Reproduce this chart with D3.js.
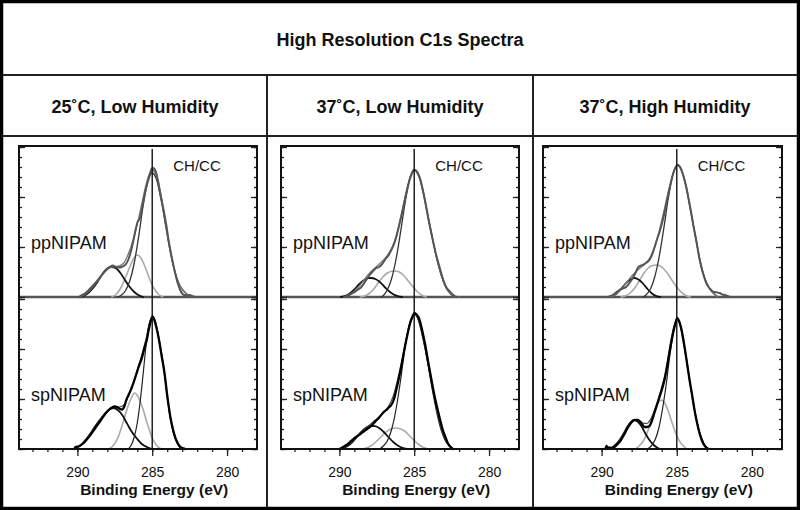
<!DOCTYPE html>
<html><head><meta charset="utf-8">
<script src="https://cdn.jsdelivr.net/npm/d3@7"></script>
<style>html,body{margin:0;padding:0;background:#fff;} svg{display:block;font-family:"Liberation Sans",Arial,sans-serif;}</style>
</head><body><svg id="c" width="800" height="510"></svg>
<script>
// ---------------- DATA ----------------
const chartTitle = "High Resolution C1s Spectra";
const conditions = ["25˚C, Low Humidity", "37˚C, Low Humidity", "37˚C, High Humidity"];
const samples = ["ppNIPAM", "spNIPAM"];
const peakLabel = "CH/CC";
const peakPosition = 285;
const xTickValues = [290, 285, 280];
const xTitle = "Binding Energy (eV)";

// [binding energy (eV), intensity (a.u.)]
// 25˚C low humidity, ppNIPAM
const pp25_exp = [[289.8,0.1],[289.45,0.4],[289.13,0.87],[288.8,1.4],[288.47,2.0],[288.2,2.5],[288.0,2.8],[287.8,3.05],[287.62,3.15],[287.45,3.0],[287.25,2.95],[287.05,3.0],[286.9,3.1],[286.75,3.3],[286.58,3.8],[286.4,4.7],[286.25,5.7],[286.1,6.8],[285.98,7.5],[285.88,7.7],[285.8,8.0],[285.65,9.1],[285.47,10.5],[285.3,11.5],[285.18,12.1],[285.05,12.8],[284.96,12.9],[284.85,12.8],[284.73,12.4],[284.6,11.5],[284.47,10.4],[284.35,9.5],[284.24,8.7],[284.05,7.1],[283.91,5.7],[283.7,4.0],[283.47,2.4],[283.3,1.4],[283.13,0.7],[282.87,0.2],[282.6,0.15],[282.47,0.2],[282.35,0.1],[282.1,0]];
const pp25_fit = [[289.8,0],[289.4,0.35],[289.0,0.95],[288.6,1.7],[288.2,2.5],[287.8,2.95],[287.5,3.05],[287.2,3.1],[286.9,3.4],[286.6,4.3],[286.3,5.6],[286.0,7.3],[285.7,9.3],[285.4,11.3],[285.2,12.3],[285.0,12.7],[284.8,12.4],[284.6,11.5],[284.4,10.1],[284.1,7.3],[283.8,4.7],[283.5,2.6],[283.2,1.3],[282.9,0.6],[282.6,0.2],[282.3,0]];
const pp25_chcc = [[287.3,0],[287.1,0.15],[286.8,0.6],[286.5,1.6],[286.2,3.4],[285.9,6.1],[285.6,9.2],[285.3,11.6],[285.0,12.4],[284.7,11.7],[284.4,9.7],[284.1,7.1],[283.8,4.6],[283.5,2.6],[283.2,1.3],[282.9,0.6],[282.6,0.2],[282.3,0]];
const pp25_cn = [[287.7,0],[287.4,0.3],[287.1,0.9],[286.8,1.9],[286.5,3.0],[286.25,3.85],[286.0,4.2],[285.75,3.9],[285.5,3.1],[285.2,1.9],[284.9,0.9],[284.6,0.3],[284.3,0]];
const pp25_co = [[289.8,0],[289.5,0.18],[289.2,0.5],[288.9,1.0],[288.6,1.65],[288.3,2.35],[288.0,2.85],[287.7,3.0],[287.4,2.85],[287.1,2.35],[286.8,1.65],[286.5,1.0],[286.2,0.5],[285.9,0.18],[285.6,0]];

// 25˚C low humidity, spNIPAM
const sp25_exp = [[290.2,0],[290.13,0.2],[289.95,0.25],[289.58,0.6],[289.35,1.0],[289.13,1.4],[288.8,2.1],[288.47,2.8],[288.2,3.4],[287.91,3.9],[287.7,4.15],[287.47,4.25],[287.3,4.15],[287.15,4.0],[287.02,3.95],[286.85,4.3],[286.73,4.9],[286.55,5.5],[286.35,6.2],[286.1,7.3],[285.91,8.2],[285.69,9.1],[285.5,10.2],[285.36,10.9],[285.25,11.8],[285.13,12.6],[284.98,13.25],[284.88,13.0],[284.8,12.6],[284.65,11.7],[284.51,10.6],[284.37,9.3],[284.24,8.2],[284.12,6.9],[284.02,5.6],[283.9,4.3],[283.8,3.3],[283.65,2.2],[283.47,1.2],[283.3,0.6],[283.13,0.2],[282.8,0]];
const sp25_fit = [[290.2,0],[289.8,0.35],[289.4,0.95],[289.0,1.75],[288.6,2.65],[288.2,3.5],[287.8,4.05],[287.5,4.2],[287.2,4.2],[286.9,4.4],[286.6,5.3],[286.3,6.5],[286.0,7.9],[285.7,9.4],[285.4,11.1],[285.2,12.5],[285.0,13.2],[284.8,12.8],[284.6,11.3],[284.4,9.6],[284.2,7.7],[284.0,5.4],[283.8,3.3],[283.6,1.8],[283.4,0.8],[283.1,0.2],[282.8,0]];
const sp25_chcc = [[286.6,0],[286.4,0.4],[286.2,1.2],[286.0,2.6],[285.8,4.8],[285.6,7.6],[285.4,10.5],[285.2,12.5],[285.0,13.2],[284.8,12.8],[284.6,11.4],[284.4,9.8],[284.2,7.8],[284.0,5.3],[283.8,3.1],[283.6,1.7],[283.4,0.8],[283.1,0.1],[282.9,0]];
const sp25_cn = [[287.9,0],[287.6,0.35],[287.3,1.1],[287.0,2.4],[286.7,3.9],[286.4,5.1],[286.18,5.6],[285.9,5.1],[285.6,3.9],[285.3,2.4],[285.0,1.1],[284.7,0.35],[284.4,0]];
const sp25_co = [[290.2,0],[289.8,0.35],[289.4,1.0],[289.1,1.6],[288.8,2.3],[288.5,2.9],[288.1,3.6],[287.8,4.0],[287.58,4.1],[287.3,3.9],[287.0,3.4],[286.7,2.6],[286.4,1.8],[286.0,1.0],[285.7,0.5],[285.35,0.2],[285.0,0]];

// 37˚C low humidity, ppNIPAM
const pp37_exp = [[289.65,0],[289.35,0.2],[289.09,0.4],[288.8,0.7],[288.53,1.0],[288.25,1.6],[287.98,2.2],[287.75,2.6],[287.53,2.9],[287.35,3.0],[287.2,3.2],[287.05,3.5],[286.87,3.9],[286.7,4.2],[286.53,4.7],[286.35,5.3],[286.2,6.0],[286.05,6.9],[285.87,8.0],[285.7,9.2],[285.53,10.4],[285.4,11.2],[285.27,11.9],[285.13,12.4],[285.03,12.7],[284.9,12.65],[284.76,12.4],[284.6,11.8],[284.47,11.0],[284.33,10.0],[284.2,9.0],[284.0,7.4],[283.76,5.7],[283.55,4.3],[283.31,3.0],[283.1,1.9],[282.87,1.0],[282.65,0.6],[282.47,0.3],[282.3,0.1],[282.09,0]];
const pp37_fit = [[289.7,0],[289.3,0.25],[288.9,0.75],[288.5,1.4],[288.1,2.2],[287.7,2.8],[287.3,3.35],[286.9,3.95],[286.5,4.9],[286.2,6.1],[285.9,8.0],[285.6,10.0],[285.3,11.9],[285.0,12.75],[284.7,12.2],[284.4,10.6],[284.1,8.3],[283.8,6.0],[283.5,3.9],[283.2,2.2],[282.9,1.0],[282.6,0.35],[282.3,0.05],[282.0,0]];
const pp37_chcc = [[287.2,0],[287.0,0.25],[286.8,0.7],[286.5,1.9],[286.2,3.9],[285.9,6.6],[285.6,9.5],[285.3,11.8],[285.0,12.7],[284.7,12.1],[284.4,10.5],[284.1,8.2],[283.8,6.0],[283.5,3.9],[283.2,2.2],[282.9,1.0],[282.6,0.35],[282.3,0.05],[282.1,0]];
const pp37_cn = [[288.6,0],[288.3,0.1],[288.0,0.35],[287.7,0.8],[287.4,1.4],[287.1,2.0],[286.8,2.4],[286.5,2.58],[286.3,2.6],[286.0,2.5],[285.7,2.15],[285.4,1.6],[285.1,1.05],[284.8,0.55],[284.5,0.2],[284.2,0]];
const pp37_co = [[289.9,0],[289.6,0.12],[289.3,0.35],[289.0,0.75],[288.7,1.25],[288.4,1.65],[288.1,1.88],[287.87,1.9],[287.6,1.8],[287.3,1.5],[287.0,1.05],[286.7,0.6],[286.4,0.28],[286.1,0.08],[285.8,0]];

// 37˚C low humidity, spNIPAM
const sp37_exp = [[289.98,0],[289.75,0.2],[289.53,0.4],[289.25,0.75],[288.98,1.1],[288.7,1.4],[288.43,1.7],[288.15,2.0],[287.87,2.3],[287.6,2.75],[287.31,3.2],[287.1,3.6],[286.87,3.9],[286.7,4.15],[286.53,4.4],[286.35,5.0],[286.2,5.9],[286.05,6.9],[285.87,8.2],[285.7,9.6],[285.53,10.9],[285.4,11.8],[285.27,12.6],[285.12,13.2],[284.98,13.6],[284.85,13.45],[284.69,13.1],[284.55,12.4],[284.43,11.6],[284.25,10.3],[284.09,8.9],[283.92,7.5],[283.76,6.2],[283.6,5.0],[283.43,3.9],[283.25,2.8],[283.09,1.9],[282.92,1.2],[282.76,0.6],[282.6,0.25],[282.42,0]];
const sp37_fit = [[290.0,0],[289.7,0.15],[289.4,0.45],[289.1,0.85],[288.8,1.3],[288.5,1.75],[288.2,2.15],[287.9,2.5],[287.6,2.9],[287.3,3.25],[287.0,3.7],[286.7,4.3],[286.4,5.3],[286.1,7.0],[285.8,9.0],[285.5,11.2],[285.25,12.8],[285.0,13.5],[284.75,13.0],[284.5,11.6],[284.25,9.9],[284.0,7.9],[283.75,5.9],[283.5,3.9],[283.25,2.3],[283.0,1.1],[282.75,0.45],[282.5,0.1],[282.3,0]];
const sp37_chcc = [[287.3,0],[287.1,0.25],[286.8,0.8],[286.5,2.0],[286.2,4.1],[285.9,7.0],[285.6,10.3],[285.3,12.6],[285.0,13.5],[284.7,12.8],[284.4,11.0],[284.1,8.6],[283.8,6.0],[283.5,3.7],[283.2,1.9],[282.9,0.8],[282.6,0.25],[282.4,0]];
const sp37_cn = [[288.5,0],[288.2,0.1],[287.9,0.3],[287.6,0.65],[287.3,1.1],[287.0,1.55],[286.7,1.9],[286.4,2.07],[286.2,2.1],[285.9,2.0],[285.6,1.75],[285.3,1.3],[285.0,0.85],[284.7,0.45],[284.4,0.18],[284.1,0]];
const sp37_co = [[290.0,0],[289.7,0.12],[289.4,0.35],[289.1,0.75],[288.8,1.25],[288.5,1.75],[288.2,2.15],[287.9,2.3],[287.6,2.28],[287.3,2.05],[287.0,1.65],[286.7,1.15],[286.4,0.7],[286.1,0.35],[285.8,0.12],[285.5,0]];

// 37˚C high humidity, ppNIPAM
const pp37h_exp = [[289.6,0],[289.27,0.2],[289.05,0.45],[288.82,0.7],[288.6,0.85],[288.37,1.0],[288.15,1.4],[287.93,1.9],[287.75,2.4],[287.6,2.9],[287.45,3.1],[287.27,3.2],[287.05,3.4],[286.82,3.7],[286.6,4.4],[286.45,5.1],[286.37,5.5],[286.15,6.5],[285.93,7.7],[285.75,8.9],[285.6,10.0],[285.43,11.2],[285.27,12.2],[285.1,12.9],[284.93,13.2],[284.78,13.0],[284.64,12.5],[284.5,11.8],[284.37,11.0],[284.2,9.7],[284.04,8.4],[283.88,7.0],[283.71,5.7],[283.55,4.3],[283.37,3.0],[283.2,2.1],[283.04,1.4],[282.88,1.0],[282.71,0.7],[282.6,0.55],[282.49,0.5],[282.3,0.45],[282.15,0.4],[281.95,0.25],[281.71,0.15],[281.49,0]];
const pp37h_fit = [[289.5,0],[289.2,0.12],[288.9,0.45],[288.6,0.95],[288.3,1.5],[288.0,2.1],[287.7,2.55],[287.4,2.95],[287.1,3.35],[286.8,3.9],[286.5,4.9],[286.2,6.4],[285.9,8.3],[285.6,10.3],[285.3,12.0],[285.1,12.9],[284.95,13.2],[284.8,13.0],[284.6,12.3],[284.35,10.9],[284.05,8.5],[283.75,6.0],[283.45,3.6],[283.15,1.9],[282.85,0.9],[282.55,0.35],[282.25,0]];
const pp37h_chcc = [[287.25,0],[287.05,0.2],[286.75,0.8],[286.45,2.1],[286.15,4.2],[285.85,7.0],[285.55,10.0],[285.25,12.3],[284.95,13.2],[284.65,12.5],[284.35,10.8],[284.05,8.4],[283.75,6.0],[283.45,3.6],[283.15,1.9],[282.85,0.9],[282.55,0.35],[282.25,0]];
const pp37h_cn = [[288.7,0],[288.4,0.12],[288.1,0.4],[287.8,0.9],[287.5,1.6],[287.2,2.35],[286.9,2.9],[286.6,3.15],[286.37,3.2],[286.1,3.1],[285.8,2.7],[285.5,2.1],[285.2,1.4],[284.9,0.8],[284.6,0.35],[284.3,0.08],[284.1,0]];
const pp37h_co = [[289.5,0],[289.3,0.08],[289.0,0.35],[288.7,0.8],[288.4,1.35],[288.1,1.75],[287.82,1.9],[287.55,1.75],[287.25,1.35],[286.95,0.8],[286.65,0.35],[286.35,0.08],[286.1,0]];

// 37˚C high humidity, spNIPAM
const sp37h_exp = [[289.75,0],[289.67,0.3],[289.58,0.1],[289.49,0.15],[289.3,0.1],[289.15,0.2],[288.93,0.5],[288.71,0.9],[288.5,1.45],[288.27,2.1],[288.05,2.6],[287.82,2.9],[287.65,2.9],[287.49,2.8],[287.32,2.5],[287.15,2.2],[287.0,2.2],[286.82,2.3],[286.65,2.85],[286.49,3.6],[286.32,4.4],[286.15,5.2],[285.98,6.0],[285.82,6.9],[285.65,8.2],[285.49,9.6],[285.35,10.8],[285.2,11.9],[285.08,12.6],[284.97,13.1],[284.85,12.8],[284.71,12.1],[284.57,11.0],[284.42,9.6],[284.28,8.2],[284.15,6.9],[283.98,5.4],[283.82,3.9],[283.65,2.6],[283.49,1.6],[283.35,0.95],[283.22,0.5],[283.07,0.2],[282.93,0]];
const sp37h_fit = [[289.5,0],[289.2,0.15],[288.9,0.6],[288.6,1.3],[288.3,2.2],[288.0,2.75],[287.75,2.95],[287.5,2.85],[287.25,2.6],[287.0,2.55],[286.75,2.95],[286.5,3.8],[286.25,4.9],[286.0,6.2],[285.75,7.7],[285.5,9.9],[285.25,11.9],[285.1,12.7],[284.95,13.1],[284.8,12.6],[284.6,11.0],[284.4,9.3],[284.2,7.4],[283.95,5.0],[283.7,3.0],[283.45,1.5],[283.2,0.55],[282.95,0.1],[282.75,0]];
const sp37h_chcc = [[286.95,0],[286.7,0.3],[286.45,0.9],[286.2,2.05],[285.95,4.0],[285.7,6.5],[285.45,9.5],[285.2,11.9],[284.95,12.9],[284.7,12.0],[284.45,9.9],[284.2,7.4],[283.95,5.0],[283.7,3.0],[283.45,1.5],[283.2,0.55],[282.95,0.1],[282.75,0]];
const sp37h_cn = [[287.75,0],[287.5,0.3],[287.25,0.75],[287.0,1.5],[286.75,2.55],[286.5,3.7],[286.25,4.6],[286.04,4.9],[285.8,4.6],[285.55,3.7],[285.3,2.55],[285.05,1.5],[284.8,0.75],[284.55,0.3],[284.35,0]];
const sp37h_co = [[289.5,0],[289.3,0.15],[289.05,0.45],[288.8,0.9],[288.55,1.5],[288.3,2.2],[288.05,2.7],[287.82,2.9],[287.57,2.7],[287.32,2.2],[287.07,1.5],[286.82,0.9],[286.57,0.45],[286.32,0.15],[286.1,0]];

// ---------------- LAYOUT ----------------
const panelSets = [
  [{exp:pp25_exp, fit:pp25_fit, chcc:pp25_chcc, cn:pp25_cn, co:pp25_co},
   {exp:sp25_exp, fit:sp25_fit, chcc:sp25_chcc, cn:sp25_cn, co:sp25_co}],
  [{exp:pp37_exp, fit:pp37_fit, chcc:pp37_chcc, cn:pp37_cn, co:pp37_co},
   {exp:sp37_exp, fit:sp37_fit, chcc:sp37_chcc, cn:sp37_cn, co:sp37_co}],
  [{exp:pp37h_exp, fit:pp37h_fit, chcc:pp37h_chcc, cn:pp37h_cn, co:pp37h_co},
   {exp:sp37h_exp, fit:sp37h_fit, chcc:sp37h_chcc, cn:sp37h_cn, co:sp37h_co}]
];

const W = 800, H = 510;
const svg = d3.select("#c");
const colEdges = [3, 267, 533, 797];
const plotXs = [[19, 257], [281, 519], [543, 782]];
const plotTop = 146, plotMid = 297, plotBot = 449;

// table lines
svg.append("line").attr("x1", 0).attr("x2", W).attr("y1", 75).attr("y2", 75).attr("stroke", "#222").attr("stroke-width", 2);
svg.append("line").attr("x1", 0).attr("x2", W).attr("y1", 136).attr("y2", 136).attr("stroke", "#222").attr("stroke-width", 2);
[267, 533].forEach(x => svg.append("line").attr("x1", x).attr("x2", x).attr("y1", 75).attr("y2", H).attr("stroke", "#222").attr("stroke-width", 2));
svg.append("rect").attr("x", 1.5).attr("y", 1.5).attr("width", W - 3).attr("height", H - 3)
  .attr("fill", "none").attr("stroke", "#000").attr("stroke-width", 3.5);

svg.append("text").attr("x", 400).attr("y", 46).attr("text-anchor", "middle")
  .attr("font-weight", "bold").attr("font-size", 18).attr("fill", "#111").text(chartTitle);

conditions.forEach((c, i) => {
  svg.append("text").attr("x", (colEdges[i] + colEdges[i + 1]) / 2).attr("y", 112.5)
    .attr("text-anchor", "middle").attr("font-weight", "bold").attr("font-size", 18).attr("fill", "#111").text(c);
});

const styles = {
  upper: {exp: ["#555", 2.0], fit: ["#7a7a7a", 1.3], chcc: ["#333", 1.3], cn: ["#aaa", 1.6], co: ["#111", 1.8]},
  lower: {exp: ["#000", 2.3], fit: ["#444", 1.2], chcc: ["#222", 1.2], cn: ["#aaa", 1.6], co: ["#111", 1.8]}
};

plotXs.forEach(([x0, x1], i) => {
  const g = svg.append("g");
  const x = d3.scaleLinear().domain([293.9, 278]).range([x0, x1]);
  const yHalf = [
    d3.scaleLinear().domain([0, 15.1]).range([plotMid, plotTop]),
    d3.scaleLinear().domain([0, 15.2]).range([plotBot, plotMid])
  ];

  // curves
  panelSets[i].forEach((set, k) => {
    const y = yHalf[k];
    const st = k === 0 ? styles.upper : styles.lower;
    const line = d3.line().x(d => x(d[0])).y(d => y(d[1])).curve(d3.curveMonotoneX);
    if (k === 0) {
      g.append("line").attr("x1", x0).attr("x2", x1).attr("y1", plotMid).attr("y2", plotMid)
        .attr("stroke", "#555").attr("stroke-width", 2.5);
    }
    ["cn", "co", "chcc", "fit", "exp"].forEach(key => {
      const data = set[key].slice().sort((a, b) => b[0] - a[0]);
      g.append("path").attr("d", line(data)).attr("fill", "none")
        .attr("stroke", st[key][0]).attr("stroke-width", st[key][1])
        .attr("stroke-linejoin", "round").attr("stroke-linecap", "round");
    });
    // left/right inner ticks
    const minorT = d3.range(0, 16, 1), majorT = [0, 5, 10, 15];
    const axL = g.append("g").attr("transform", `translate(${x0},0)`)
      .call(d3.axisRight(y).tickValues(minorT).tickSize(3).tickFormat(""));
    const axL2 = g.append("g").attr("transform", `translate(${x0},0)`)
      .call(d3.axisRight(y).tickValues(majorT).tickSize(6).tickFormat(""));
    const axR = g.append("g").attr("transform", `translate(${x1},0)`)
      .call(d3.axisLeft(y).tickValues(minorT).tickSize(3).tickFormat(""));
    const axR2 = g.append("g").attr("transform", `translate(${x1},0)`)
      .call(d3.axisLeft(y).tickValues(majorT).tickSize(6).tickFormat(""));
    [axL, axL2, axR, axR2].forEach(a => { a.select(".domain").remove(); a.selectAll("line").attr("stroke", "#222").attr("stroke-width", 1.3); });

    g.append("text").attr("x", x0 + 12).attr("y", (k === 0 ? plotMid : plotBot) - 48)
      .attr("font-size", 18).attr("fill", "#111").text(samples[k]);
  });

  // vertical reference line
  g.append("line").attr("x1", x(peakPosition)).attr("x2", x(peakPosition)).attr("y1", plotTop + 3).attr("y2", plotBot)
    .attr("stroke", "#111").attr("stroke-width", 1.4);
  g.append("text").attr("x", x(peakPosition) + 21).attr("y", 171).attr("font-size", 15).attr("fill", "#111").text(peakLabel);

  // bottom axis
  const minorX = d3.range(279, 294, 1);
  const axB1 = g.append("g").attr("transform", `translate(0,${plotBot})`)
    .call(d3.axisBottom(x).tickValues(minorX).tickSize(3).tickFormat(""));
  const axB2 = g.append("g").attr("transform", `translate(0,${plotBot})`)
    .call(d3.axisBottom(x).tickValues(xTickValues).tickSize(7).tickPadding(11).tickFormat(d3.format("d")));
  [axB1, axB2].forEach(a => { a.select(".domain").remove(); a.selectAll("line").attr("stroke", "#222").attr("stroke-width", 1.3); });
  axB2.selectAll("text").attr("font-size", 14).attr("fill", "#111").attr("font-family", '"Liberation Sans",Arial,sans-serif');

  g.append("text").attr("x", x(peakPosition) + 2).attr("y", 495).attr("text-anchor", "middle")
    .attr("font-weight", "bold").attr("font-size", 15.5).attr("fill", "#111").text(xTitle);

  // frame
  g.append("rect").attr("x", x0).attr("y", plotTop).attr("width", x1 - x0).attr("height", plotBot - plotTop)
    .attr("fill", "none").attr("stroke", "#111").attr("stroke-width", 2);
});
</script></body></html>
